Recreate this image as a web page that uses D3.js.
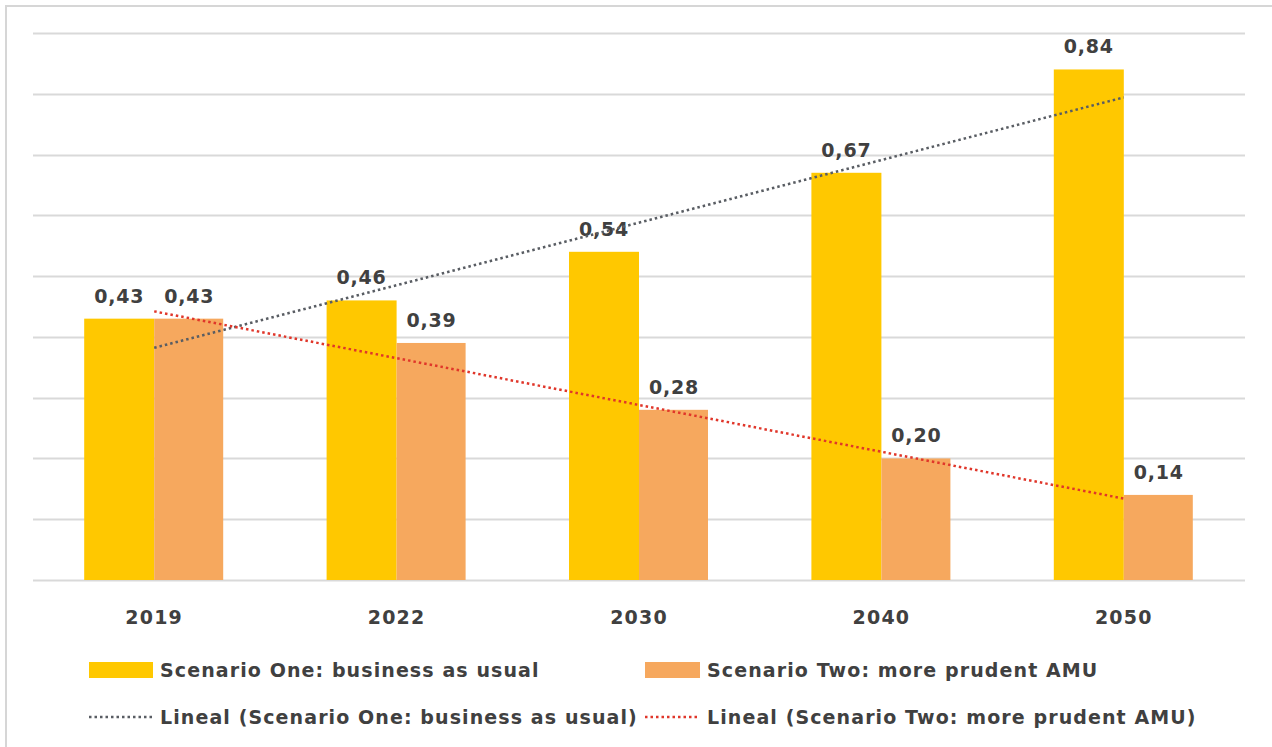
<!DOCTYPE html>
<html><head><meta charset="utf-8">
<script src="https://cdn.jsdelivr.net/npm/d3@7"></script>
<style>html,body{margin:0;padding:0;background:#fff;}svg{display:block;}</style>
</head><body><svg id="c" width="1272" height="747"></svg>
<script>
const categories = ["2019","2022","2030","2040","2050"];
const scenarioOne = [0.43,0.46,0.54,0.67,0.84];
const scenarioTwo = [0.43,0.39,0.28,0.20,0.14];
const seriesNames = ["Scenario One: business as usual","Scenario Two: more prudent AMU"];
const trendNames = ["Lineal (Scenario One: business as usual)","Lineal (Scenario Two: more prudent AMU)"];
const yTicks = [0,0.1,0.2,0.3,0.4,0.5,0.6,0.7,0.8,0.9];

(function(){
const colors = {one:"#FFC800", two:"#F6A85E", trendOne:"#595d63", trendTwo:"#E0362A", grid:"#D9D9D9", text:"#404040"};
const font = "'DejaVu Sans', sans-serif";

const svg = d3.select("#c");
svg.append("path").attr("d","M6,747 V6 H1272").attr("fill","none").attr("stroke","#D6D6D6").attr("stroke-width",2);

const pL=33, pR=1245, pT=33, pB=580;
const x = d3.scaleBand().domain(categories).range([pL,pR]).paddingInner(0).paddingOuter(0);
const y = d3.scaleLinear().domain([0,0.9]).range([pB,pT]);
const barW = 70;

svg.append("g").selectAll("line").data(yTicks).join("line")
  .attr("x1",pL).attr("x2",pR)
  .attr("y1",d=>Math.round(y(d))+0.5).attr("y2",d=>Math.round(y(d))+0.5)
  .attr("stroke",colors.grid).attr("stroke-width",2);

const cx = c => x(c)+x.bandwidth()/2;

svg.append("g").selectAll("rect").data(categories).join("rect")
  .attr("x",c=>cx(c)-barW).attr("width",barW)
  .attr("y",(c,i)=>y(scenarioOne[i])).attr("height",(c,i)=>pB-y(scenarioOne[i]))
  .attr("fill",colors.one);
svg.append("g").selectAll("rect").data(categories).join("rect")
  .attr("x",c=>cx(c)).attr("width",barW-1)
  .attr("y",(c,i)=>y(scenarioTwo[i])).attr("height",(c,i)=>pB-y(scenarioTwo[i]))
  .attr("fill",colors.two);

const fmt = v => d3.format(".2f")(v).replace(".",",");
const lab = svg.append("g").attr("font-family",font).attr("font-weight","bold").attr("font-size",19)
  .attr("letter-spacing",0.8).attr("fill",colors.text).attr("text-anchor","middle");
lab.selectAll("text.a").data(categories).join("text").attr("class","a")
  .attr("x",c=>cx(c)-barW/2).attr("y",(c,i)=>y(scenarioOne[i])-16).text((c,i)=>fmt(scenarioOne[i]));
lab.selectAll("text.b").data(categories).join("text").attr("class","b")
  .attr("x",c=>cx(c)+barW/2).attr("y",(c,i)=>y(scenarioTwo[i])-16).text((c,i)=>fmt(scenarioTwo[i]));

function trend(vals){
  const n=vals.length, xs=vals.map((v,i)=>i+1);
  const mx=d3.mean(xs), my=d3.mean(vals);
  const b=d3.sum(xs.map((xx,i)=>(xx-mx)*(vals[i]-my)))/d3.sum(xs.map(xx=>(xx-mx)**2));
  const a=my-b*mx;
  return [[categories[0],a+b*1],[categories[n-1],a+b*n]];
}
[[scenarioOne,colors.trendOne],[scenarioTwo,colors.trendTwo]].forEach(([vals,col])=>{
  const t=trend(vals);
  svg.append("line").attr("x1",cx(t[0][0])).attr("y1",y(t[0][1])).attr("x2",cx(t[1][0])).attr("y2",y(t[1][1]))
    .attr("stroke",col).attr("stroke-width",2.5).attr("stroke-dasharray","2.5,3");
});

svg.append("g").attr("font-family",font).attr("font-weight","bold").attr("font-size",19).attr("letter-spacing",1.2)
  .attr("fill",colors.text).attr("text-anchor","middle")
  .selectAll("text").data(categories).join("text").attr("x",c=>cx(c)).attr("y",624).text(c=>c);

const lg = svg.append("g").attr("font-family",font).attr("font-weight","bold").attr("font-size",19)
  .attr("letter-spacing",1.1).attr("fill",colors.text);
const lx=[89,645], lw=[64,55], ly=[670,717];
[colors.one,colors.two].forEach((col,i)=>{
  lg.append("rect").attr("x",lx[i]).attr("y",ly[0]-8).attr("width",lw[i]).attr("height",16).attr("fill",col);
  lg.append("text").attr("x",lx[i]+lw[i]+7).attr("y",ly[0]+7).text(seriesNames[i]);
});
[colors.trendOne,colors.trendTwo].forEach((col,i)=>{
  lg.append("line").attr("x1",lx[i]).attr("x2",lx[i]+lw[i]).attr("y1",ly[1]).attr("y2",ly[1]).attr("stroke",col).attr("stroke-width",2.5).attr("stroke-dasharray","2.5,3");
  lg.append("text").attr("x",lx[i]+lw[i]+7).attr("y",ly[1]+7).text(trendNames[i]);
});
})();
</script></body></html>
